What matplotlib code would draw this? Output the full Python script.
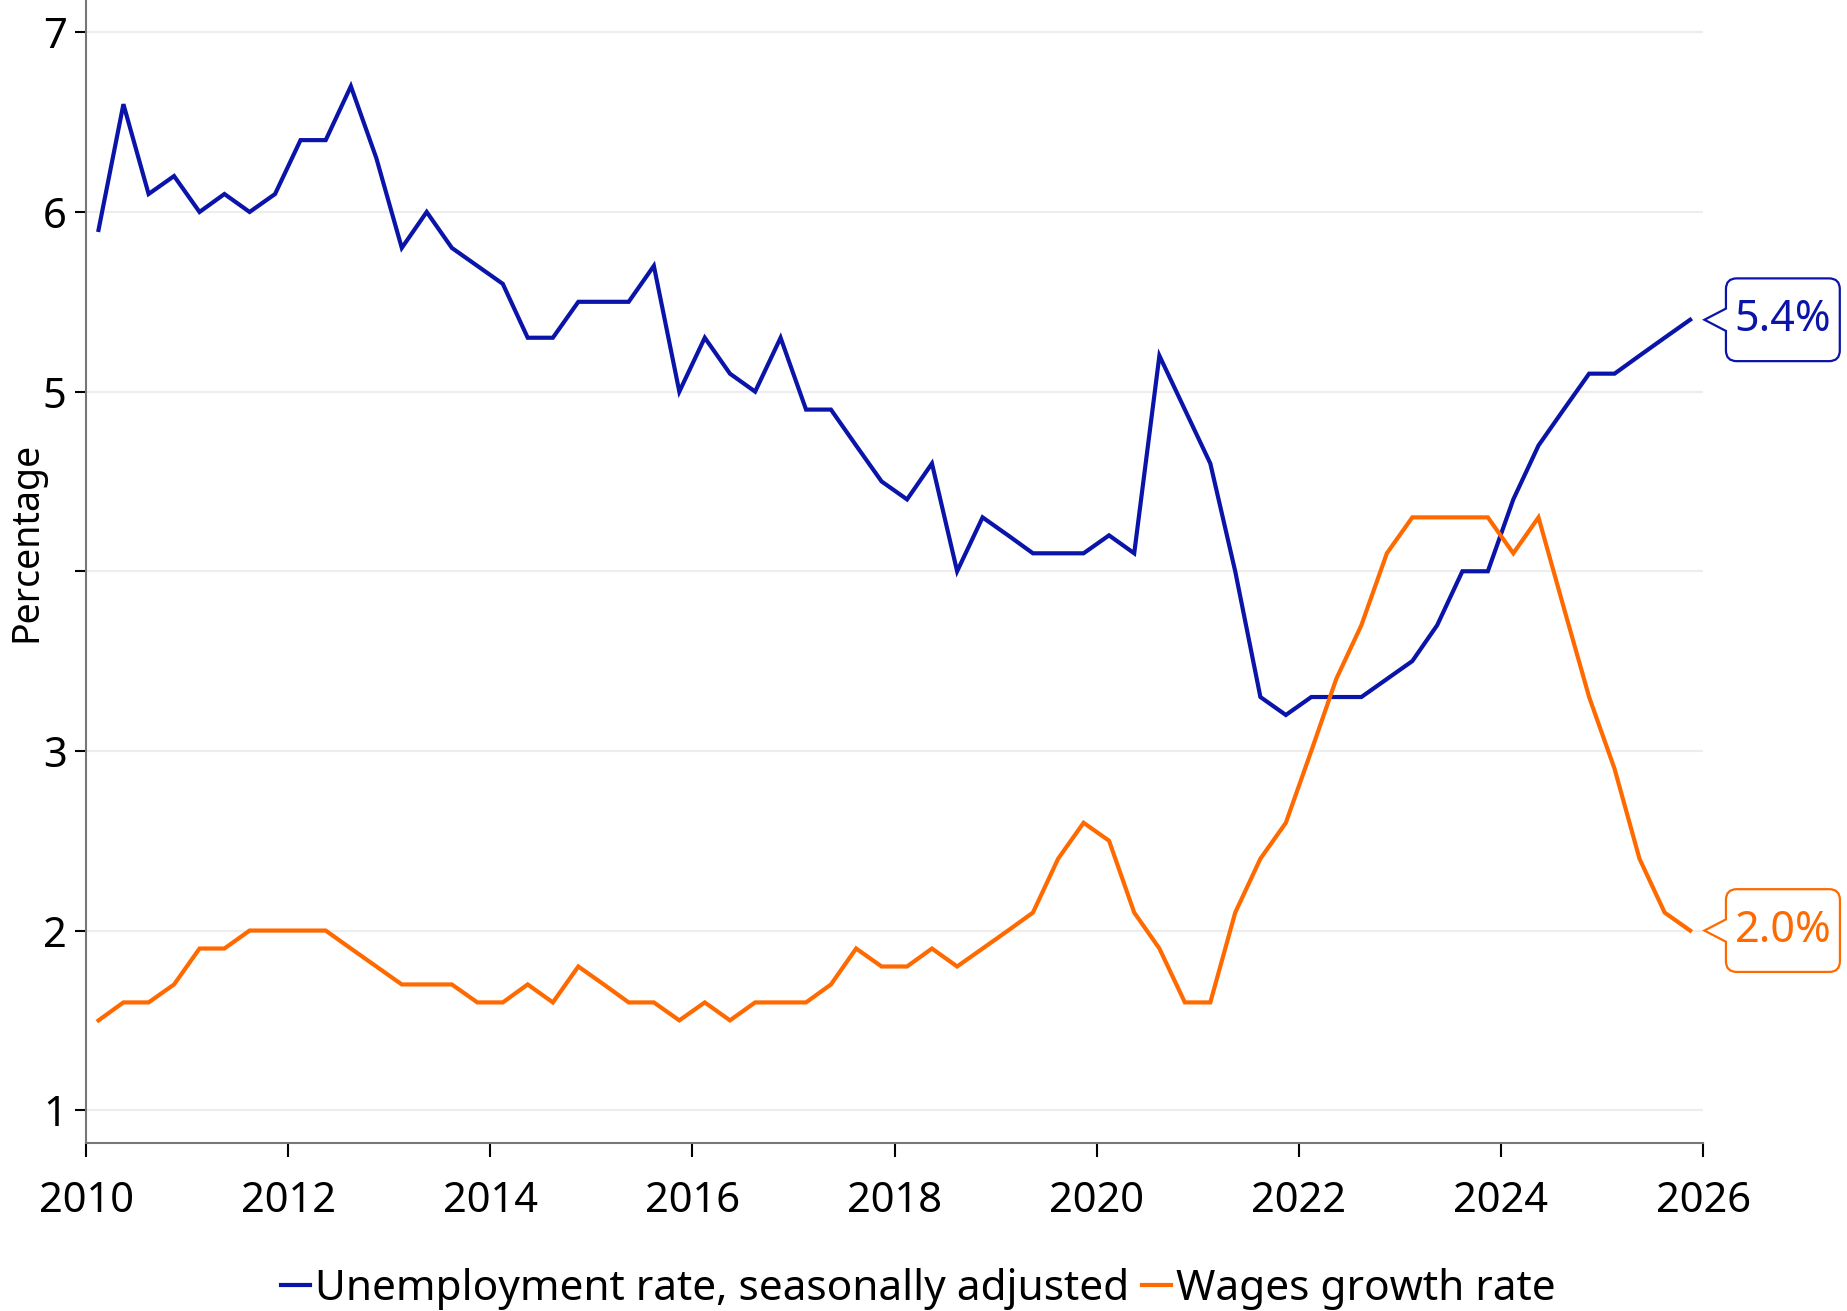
import numpy as np
import pandas as pd
import matplotlib
matplotlib.use("Agg")
import matplotlib.pyplot as plt
import matplotlib.dates as mdates
from matplotlib.path import Path

plt.rcParams['font.family'] = ['Noto Sans', 'DejaVu Sans']

# Quarterly data, 2010Q1 - 2025Q4
quarters = pd.period_range('2010Q1', '2025Q4', freq='Q')

unemployment = [
    5.9, 6.6, 6.1, 6.2, 6.0, 6.1, 6.0, 6.1,
    6.4, 6.4, 6.7, 6.3, 5.8, 6.0, 5.8, 5.7,
    5.6, 5.3, 5.3, 5.5, 5.5, 5.5, 5.7, 5.0,
    5.3, 5.1, 5.0, 5.3, 4.9, 4.9, 4.7, 4.5,
    4.4, 4.6, 4.0, 4.3, 4.2, 4.1, 4.1, 4.1,
    4.2, 4.1, 5.2, 4.9, 4.6, 4.0, 3.3, 3.2,
    3.3, 3.3, 3.3, 3.4, 3.5, 3.7, 4.0, 4.0,
    4.4, 4.7, 4.9, 5.1, 5.1, 5.2, 5.3, 5.4,
]

wages = [
    1.5, 1.6, 1.6, 1.7, 1.9, 1.9, 2.0, 2.0,
    2.0, 2.0, 1.9, 1.8, 1.7, 1.7, 1.7, 1.6,
    1.6, 1.7, 1.6, 1.8, 1.7, 1.6, 1.6, 1.5,
    1.6, 1.5, 1.6, 1.6, 1.6, 1.7, 1.9, 1.8,
    1.8, 1.9, 1.8, 1.9, 2.0, 2.1, 2.4, 2.6,
    2.5, 2.1, 1.9, 1.6, 1.6, 2.1, 2.4, 2.6,
    3.0, 3.4, 3.7, 4.1, 4.3, 4.3, 4.3, 4.3,
    4.1, 4.3, 3.8, 3.3, 2.9, 2.4, 2.1, 2.0,
]

series_labels = ['Unemployment rate, seasonally adjusted', 'Wages growth rate']
series_colors = ['#0A14A8', '#FF6A00']
y_ticks = [1, 2, 3, 4, 5, 6, 7]
y_ticklabels = ['1', '2', '3', '', '5', '6', '7']
x_tick_years = [2010, 2012, 2014, 2016, 2018, 2020, 2022, 2024, 2026]

# middle of each quarter
dates = quarters.to_timestamp(how='start') + pd.Timedelta(days=45)


def callout_box(x0, y0, width, height, mutation_size):
    """Rounded box with a small '<' notch on the left side."""
    padx = 0.2 * mutation_size
    pady = 0.45 * mutation_size
    x0, y0 = x0 - padx, y0 - pady
    x1, y1 = x0 + width + 2 * padx, y0 + height + 2 * pady
    r = 0.25 * mutation_size
    ym = (y0 + y1) / 2
    d = 0.5 * mutation_size
    h = 0.26 * mutation_size
    verts = [
        (x0 + r, y0), (x1 - r, y0),
        (x1, y0), (x1, y0 + r),
        (x1, y1 - r),
        (x1, y1), (x1 - r, y1),
        (x0 + r, y1),
        (x0, y1), (x0, y1 - r),
        (x0, ym + h), (x0 - d, ym), (x0, ym - h),
        (x0, y0 + r),
        (x0, y0), (x0 + r, y0),
        (x0 + r, y0),
    ]
    codes = [
        Path.MOVETO, Path.LINETO,
        Path.CURVE3, Path.CURVE3,
        Path.LINETO,
        Path.CURVE3, Path.CURVE3,
        Path.LINETO,
        Path.CURVE3, Path.CURVE3,
        Path.LINETO, Path.LINETO, Path.LINETO,
        Path.LINETO,
        Path.CURVE3, Path.CURVE3,
        Path.CLOSEPOLY,
    ]
    return Path(verts, codes)


fig = plt.figure(figsize=(18.47, 13.11), dpi=100)
ax = fig.add_axes([0.0466, 0.1285, 0.8755, 0.8715])

lines = []
for values, label, color in zip([unemployment, wages], series_labels, series_colors):
    ln, = ax.plot(dates, values, color=color, lw=3.0, label=label, solid_joinstyle='miter')
    lines.append(ln)

    # end-of-line value label
    ax.annotate(f'{values[-1]:.1f}%', xy=(dates[-1], values[-1]),
                xytext=(32, 0), textcoords='offset points',
                ha='left', va='center', fontsize=31, color=color,
                bbox=dict(boxstyle=callout_box, fc='white', ec=color, lw=1.6),
                annotation_clip=False)

ax.set_xlim(pd.Timestamp('2010-01-01'), pd.Timestamp('2026-01-01'))
ax.set_ylim(0.82, 7.18)

ax.set_xticks([pd.Timestamp(f'{y}-01-01') for y in x_tick_years])
ax.xaxis.set_major_formatter(mdates.DateFormatter('%Y'))
ax.set_yticks(y_ticks)
ax.set_yticklabels(y_ticklabels)

ax.grid(axis='y', color='#EDEDED', lw=1.6)
ax.set_axisbelow(True)

for side in ['top', 'right']:
    ax.spines[side].set_visible(False)
for side in ['left', 'bottom']:
    ax.spines[side].set_color('#777777')
    ax.spines[side].set_linewidth(1.5)

ax.tick_params(axis='y', labelsize=30, length=8, width=1.5, color='black', pad=6)
ax.tick_params(axis='x', labelsize=30, length=10, width=1.5, color='black', pad=17)

ax.set_ylabel('Percentage', fontsize=27)
ax.yaxis.set_label_coords(-0.025, 0.526)

fig.legend(handles=lines, loc='lower center', bbox_to_anchor=(0.497, 0.001),
           ncol=2, frameon=False, fontsize=30.5, handlelength=0.7,
           handletextpad=0.1, columnspacing=0.3, borderpad=0, borderaxespad=0)

plt.savefig('out.png', dpi=100)
